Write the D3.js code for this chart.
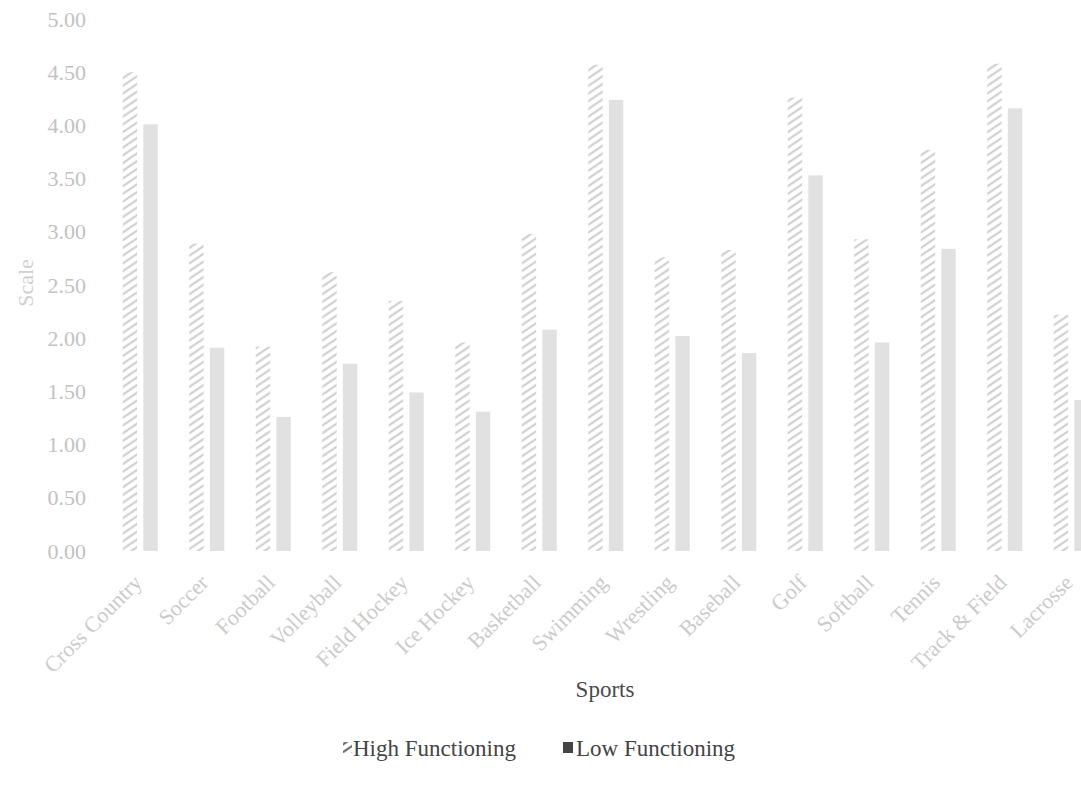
<!DOCTYPE html>
<html>
<head>
<meta charset="utf-8">
<script src="https://cdn.jsdelivr.net/npm/d3@7"></script>
<style>
  html, body { margin: 0; padding: 0; background: #fff; }
  svg { display: block; font-family: "Liberation Serif", "DejaVu Serif", serif; }
</style>
</head>
<body>
<svg id="chart" width="1081" height="793"></svg>
<script>
const categories = ["Cross Country", "Soccer", "Football", "Volleyball", "Field Hockey", "Ice Hockey", "Basketball", "Swimming", "Wrestling", "Baseball", "Golf", "Softball", "Tennis", "Track & Field", "Lacrosse"];
const highFunctioning = [4.50, 2.89, 1.92, 2.62, 2.35, 1.96, 2.98, 4.57, 2.76, 2.83, 4.26, 2.93, 3.77, 4.58, 2.22];
const lowFunctioning  = [4.01, 1.91, 1.26, 1.76, 1.49, 1.31, 2.08, 4.24, 2.02, 1.86, 3.53, 1.96, 2.84, 4.16, 1.42];
const yTicks = [0, 0.5, 1, 1.5, 2, 2.5, 3, 3.5, 4, 4.5, 5];
const seriesNames = ["High Functioning", "Low Functioning"];

const svg = d3.select("#chart");

const defs = svg.append("defs");
function makeHatch(id, color, sw) {
  const p = defs.append("pattern")
    .attr("id", id)
    .attr("patternUnits", "userSpaceOnUse")
    .attr("width", 10).attr("height", 6.4)
    .attr("patternTransform", "rotate(-34)");
  p.append("line")
    .attr("x1", 0).attr("x2", 10)
    .attr("y1", 3.2).attr("y2", 3.2)
    .attr("stroke", color)
    .attr("stroke-width", sw);
}
makeHatch("hatch", "#c9c9c9", 1.9);
makeHatch("hatchLegend", "#555", 1.9);

const y = d3.scaleLinear().domain([0, 5]).range([551, 19]);
const x = d3.scaleBand().domain(categories).range([107, 107 + 15 * 66.5]).padding(0);
const x1 = d3.scaleBand().domain(seriesNames)
  .range([x.bandwidth() * 0.237, x.bandwidth() * 0.763])
  .paddingInner(0.3);

// Y axis
const yAxis = d3.axisLeft(y).tickValues(yTicks).tickFormat(d3.format(".2f")).tickSize(0).tickPadding(0);
const gy = svg.append("g").attr("transform", "translate(86,0)").call(yAxis);
gy.select(".domain").remove();
gy.selectAll("text")
  .attr("fill", "#c2c2c2")
  .style("font-size", "22px")
  .style("font-family", "'Liberation Serif', serif");

// X axis
const xAxis = d3.axisBottom(x).tickSize(0).tickPadding(0);
const gx = svg.append("g").attr("transform", "translate(0,551)").call(xAxis);
gx.select(".domain").remove();
gx.selectAll("text")
  .attr("fill", "#cbcbcb")
  .style("font-size", "22px")
  .style("font-family", "'Liberation Serif', serif")
  .attr("text-anchor", "end")
  .attr("dy", null)
  .attr("y", 0)
  .attr("transform", "translate(3,33) rotate(-45)");

// Bars
const groups = svg.append("g").selectAll("g")
  .data(categories)
  .join("g")
  .attr("transform", d => `translate(${x(d)},0)`);

groups.append("rect")
  .attr("x", x1("High Functioning"))
  .attr("width", x1.bandwidth())
  .attr("y", (d, i) => y(highFunctioning[i]))
  .attr("height", (d, i) => y(0) - y(highFunctioning[i]))
  .attr("fill", "url(#hatch)");

groups.append("rect")
  .attr("x", x1("Low Functioning"))
  .attr("width", x1.bandwidth())
  .attr("y", (d, i) => y(lowFunctioning[i]))
  .attr("height", (d, i) => y(0) - y(lowFunctioning[i]))
  .attr("fill", "#e1e1e1");

// Axis titles
svg.append("text")
  .attr("transform", "translate(33,283) rotate(-90)")
  .attr("text-anchor", "middle")
  .attr("fill", "#d0d0d0")
  .style("font-size", "22px")
  .text("Scale");

svg.append("text")
  .attr("x", 605).attr("y", 697)
  .attr("text-anchor", "middle")
  .attr("fill", "#4a4a4a")
  .style("font-size", "23px")
  .text("Sports");

// Legend
const legend = svg.append("g").attr("transform", "translate(343,756)");
legend.append("rect").attr("x", 0).attr("y", -14).attr("width", 9).attr("height", 11).attr("fill", "url(#hatchLegend)");
legend.append("text").attr("x", 10).attr("y", 0).attr("fill", "#444").style("font-size", "23px").text(seriesNames[0]);
legend.append("rect").attr("x", 220).attr("y", -14).attr("width", 10).attr("height", 11).attr("fill", "#444");
legend.append("text").attr("x", 233).attr("y", 0).attr("fill", "#444").style("font-size", "23px").text(seriesNames[1]);
</script>
</body>
</html>
